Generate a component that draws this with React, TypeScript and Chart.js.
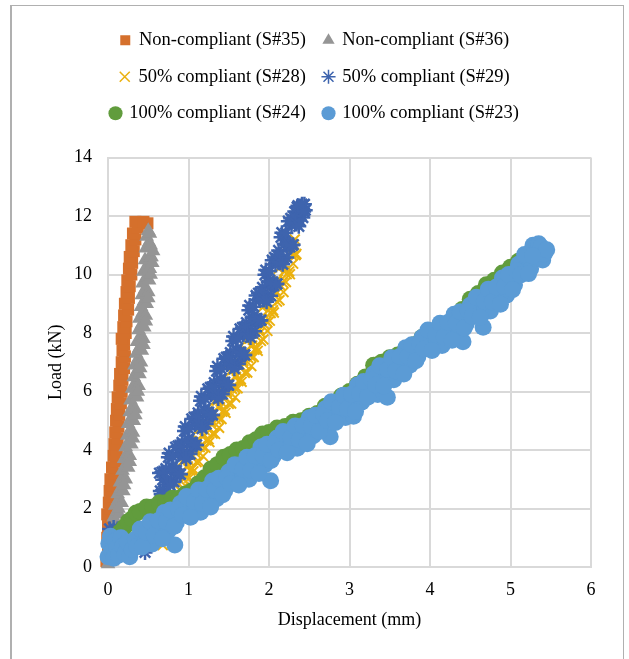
import React, { useEffect, useRef } from 'react';
import { Chart, registerables } from 'chart.js';

Chart.register(...registerables);

const seriesLabels = [
  'Non-compliant (S#35)',
  'Non-compliant (S#36)',
  '50% compliant (S#28)',
  '50% compliant (S#29)',
  '100% compliant (S#24)',
  '100% compliant (S#23)',
];

const xTicks = [0, 1, 2, 3, 4, 5, 6];
const yTicks = [0, 2, 4, 6, 8, 10, 12, 14];

// [displacement (mm), load (kN)]
const s35: [number, number][] = [
  [-0.02, 0.2], [0.02, 0.4], [0.00, 0.6], [0.03, 0.8], [-0.01, 1.0], [0.02, 1.2], [0.00, 1.4],
  [0.04, 1.6], [-0.01, 1.8], [0.03, 2.0], [0.01, 2.2], [0.05, 2.4], [0.02, 2.6], [0.06, 2.8],
  [0.03, 3.0], [0.08, 3.2], [0.05, 3.4], [0.10, 3.6], [0.07, 3.8], [0.11, 4.0], [0.08, 4.2],
  [0.12, 4.4], [0.09, 4.6], [0.13, 4.8], [0.10, 5.0], [0.14, 5.2], [0.11, 5.4], [0.16, 5.6],
  [0.12, 5.8], [0.17, 6.0], [0.14, 6.2], [0.18, 6.4], [0.15, 6.6], [0.20, 6.8], [0.17, 7.0],
  [0.21, 7.2], [0.18, 7.4], [0.20, 7.6], [0.17, 7.8], [0.22, 8.0], [0.19, 8.2], [0.23, 8.4],
  [0.20, 8.6], [0.25, 8.8], [0.21, 9.0], [0.26, 9.2], [0.23, 9.4], [0.27, 9.6], [0.24, 9.8],
  [0.29, 10.0], [0.26, 10.2], [0.30, 10.4], [0.27, 10.6], [0.32, 10.8], [0.29, 11.0], [0.34, 11.2],
  [0.31, 11.4], [0.37, 11.6], [0.34, 11.8], [0.44, 11.8], [0.49, 11.75],
];

const s36a: [number, number][] = [
  [0.00, 0.1], [0.03, 0.3], [0.01, 0.5], [0.05, 0.7], [0.03, 0.9], [0.07, 1.1], [0.05, 1.3],
  [0.09, 1.5], [0.07, 1.7], [0.11, 1.9], [0.09, 2.1], [0.13, 2.3], [0.12, 2.5], [0.16, 2.7],
  [0.15, 2.9], [0.19, 3.1], [0.18, 3.3], [0.22, 3.5], [0.20, 3.7], [0.24, 3.9], [0.22, 4.1],
  [0.26, 4.3], [0.24, 4.5], [0.28, 4.7], [0.25, 4.9], [0.29, 5.1], [0.27, 5.3], [0.31, 5.5],
  [0.28, 5.7], [0.33, 5.9], [0.30, 6.1], [0.34, 6.3], [0.32, 6.5], [0.36, 6.7], [0.33, 6.9],
  [0.37, 7.1], [0.35, 7.3], [0.39, 7.5], [0.36, 7.7], [0.41, 7.9], [0.38, 8.1], [0.42, 8.3],
  [0.39, 8.5], [0.43, 8.7], [0.41, 8.9], [0.45, 9.1], [0.42, 9.3], [0.46, 9.5], [0.43, 9.7],
  [0.48, 9.9], [0.44, 10.1], [0.49, 10.3], [0.46, 10.5], [0.53, 10.6], [0.47, 10.9], [0.51, 11.1],
  [0.48, 11.3], [0.50, 11.5],
];
const s36b: [number, number][] = [
  [0.05, 0.2], [0.08, 0.6], [0.10, 1.0], [0.12, 1.4], [0.14, 1.8], [0.17, 2.2], [0.19, 2.6],
  [0.22, 3.0], [0.25, 3.4], [0.27, 3.8], [0.29, 4.2], [0.31, 4.6], [0.32, 5.0], [0.34, 5.4],
  [0.36, 5.8], [0.38, 6.2], [0.39, 6.6], [0.41, 7.0], [0.42, 7.4], [0.44, 7.8], [0.45, 8.2],
  [0.47, 8.6], [0.48, 9.0], [0.50, 9.4], [0.51, 9.8], [0.52, 10.2], [0.54, 10.6], [0.53, 11.0],
  [0.52, 11.4],
];
const s36c: [number, number][] = [
  [0.04, 0.4], [0.09, 1.2], [0.13, 2.0], [0.20, 2.8], [0.27, 3.6], [0.31, 4.4], [0.34, 5.2],
  [0.37, 6.0], [0.40, 6.8], [0.44, 7.6], [0.47, 8.4], [0.50, 9.2], [0.53, 10.0], [0.55, 10.4],
  [0.56, 10.8],
];

const s28a: [number, number][] = [
  [0.05, 1.0], [0.68, 0.75],
  [0.90, 2.6], [0.92, 3.6], [0.94, 3.01], [0.96, 3.67], [0.98, 2.73], [1.00, 3.64], [1.02, 3.3],
  [1.04, 4.31], [1.06, 3.27], [1.08, 3.98], [1.10, 3.59], [1.12, 4.7], [1.14, 4.1], [1.16, 4.74],
  [1.18, 3.79], [1.20, 4.68], [1.22, 4.33], [1.24, 5.32], [1.26, 4.27], [1.28, 4.96], [1.30, 4.56],
  [1.32, 5.66], [1.34, 5.05], [1.36, 5.7], [1.38, 4.76], [1.40, 5.66], [1.42, 5.31], [1.44, 6.32],
  [1.46, 5.27], [1.48, 5.98], [1.50, 5.58], [1.52, 6.69], [1.54, 6.09], [1.56, 6.75], [1.58, 5.8],
  [1.60, 6.71], [1.62, 6.36], [1.64, 7.37], [1.66, 6.33], [1.68, 7.03], [1.70, 6.64], [1.72, 7.75],
  [1.74, 7.15], [1.76, 7.81], [1.78, 6.87], [1.80, 7.77], [1.82, 7.43], [1.84, 8.44], [1.86, 7.39],
  [1.88, 8.1], [1.90, 7.73], [1.92, 8.87], [1.94, 8.3], [1.96, 8.98], [1.98, 8.07], [2.00, 9.0],
  [2.02, 8.68], [2.04, 9.72], [2.06, 8.7], [2.08, 9.43], [2.10, 9.07], [2.12, 10.2], [2.14, 9.63],
  [2.16, 10.32], [2.18, 9.4], [2.20, 10.33], [2.22, 10.01], [2.24, 11.03], [2.26, 10.01], [2.28, 10.74],
  [2.30, 10.37], [2.32, 11.2], [2.34, 10.7],
];
const s28b: [number, number][] = [
  [0.91, 3.25], [0.93, 2.7], [0.95, 3.67], [0.97, 3.08], [0.99, 3.44], [1.01, 3.05], [1.03, 4.21],
  [1.05, 3.37], [1.07, 4.03], [1.09, 3.89], [1.11, 4.35], [1.13, 3.6], [1.15, 4.74], [1.17, 4.14],
  [1.19, 4.48], [1.21, 4.08], [1.23, 5.23], [1.25, 4.37], [1.27, 5.02], [1.29, 4.86], [1.31, 5.31],
  [1.33, 4.55], [1.35, 5.7], [1.37, 5.1], [1.39, 5.46], [1.41, 5.06], [1.43, 6.22], [1.45, 5.37],
  [1.47, 6.02], [1.49, 5.88], [1.51, 6.33], [1.53, 5.59], [1.55, 6.74], [1.57, 6.14], [1.59, 6.5],
  [1.61, 6.11], [1.63, 7.27], [1.65, 6.42], [1.67, 7.08], [1.69, 6.94], [1.71, 7.39], [1.73, 6.65],
  [1.75, 7.81], [1.77, 7.21], [1.79, 7.57], [1.81, 7.18], [1.83, 8.33], [1.85, 7.49], [1.87, 8.15],
  [1.89, 8.02], [1.91, 8.5], [1.93, 7.78], [1.95, 8.97], [1.97, 8.4], [1.99, 8.78], [2.01, 8.42],
  [2.03, 9.6], [2.05, 8.78], [2.07, 9.47], [2.09, 9.35], [2.11, 9.83], [2.13, 9.12], [2.15, 10.3],
  [2.17, 9.73], [2.19, 10.11], [2.21, 9.74], [2.23, 10.92], [2.25, 10.1], [2.27, 10.78], [2.29, 10.65],
  [2.31, 11.03], [2.33, 10.66],
];

const s29a: [number, number][] = [
  [0.02, 1.3], [0.07, 1.35], [0.12, 1.3], [0.46, 0.5],
  [0.64, 3.21], [0.66, 2.5], [0.68, 2.98], [0.70, 2.5], [0.72, 3.36], [0.74, 2.9], [0.76, 3.89],
  [0.78, 2.98], [0.80, 3.42], [0.82, 2.91], [0.84, 4.1], [0.86, 3.19], [0.88, 3.88], [0.90, 3.17],
  [0.92, 4.26], [0.94, 3.8], [0.96, 4.8], [0.98, 3.91], [1.00, 4.36], [1.02, 3.86], [1.04, 5.06],
  [1.06, 4.17], [1.08, 4.87], [1.10, 4.17], [1.12, 5.27], [1.14, 4.83], [1.16, 5.83], [1.18, 4.93],
  [1.20, 5.38], [1.22, 4.89], [1.24, 6.09], [1.26, 5.19], [1.28, 5.89], [1.30, 5.2], [1.32, 6.3],
  [1.34, 5.85], [1.36, 6.86], [1.38, 5.96], [1.40, 6.41], [1.42, 5.91], [1.44, 7.12], [1.46, 6.22],
  [1.48, 6.92], [1.50, 6.22], [1.52, 7.33], [1.54, 6.88], [1.56, 7.88], [1.58, 6.98], [1.60, 7.44],
  [1.62, 6.94], [1.64, 8.14], [1.66, 7.24], [1.68, 7.94], [1.70, 7.25], [1.72, 8.35], [1.74, 7.92],
  [1.76, 8.94], [1.78, 8.06], [1.80, 8.53], [1.82, 8.06], [1.84, 9.28], [1.86, 8.4], [1.88, 9.12],
  [1.90, 8.44], [1.92, 9.56], [1.94, 9.13], [1.96, 10.15], [1.98, 9.28], [2.00, 9.75], [2.02, 9.27],
  [2.04, 10.49], [2.06, 9.62], [2.08, 10.35], [2.10, 9.68], [2.12, 10.82], [2.14, 10.4], [2.16, 11.43],
  [2.18, 10.57], [2.20, 11.05], [2.22, 10.58], [2.24, 11.82], [2.26, 10.95], [2.28, 11.68], [2.30, 11.02],
  [2.32, 12.15], [2.34, 11.73], [2.36, 12.35], [2.38, 11.85], [2.40, 12.3], [2.42, 11.95], [2.44, 12.4],
  [2.45, 12.2],
];
const s29b: [number, number][] = [
  [0.65, 2.6], [0.67, 3.24], [0.69, 2.6], [0.71, 3.22], [0.73, 2.96], [0.75, 3.75], [0.77, 2.79],
  [0.79, 3.43], [0.81, 3.77], [0.83, 3.31], [0.85, 3.3], [0.87, 4.14], [0.89, 3.18], [0.91, 4.11],
  [0.93, 3.85], [0.95, 4.65], [0.97, 3.7], [0.99, 4.36], [1.01, 4.71], [1.03, 4.26], [1.05, 4.26],
  [1.07, 5.12], [1.09, 4.17], [1.11, 5.12], [1.13, 4.87], [1.15, 5.68], [1.17, 4.73], [1.19, 5.38],
  [1.21, 5.74], [1.23, 5.29], [1.25, 5.29], [1.27, 6.14], [1.29, 5.2], [1.31, 6.15], [1.33, 5.9],
  [1.35, 6.7], [1.37, 5.76], [1.39, 6.41], [1.41, 6.76], [1.43, 6.31], [1.45, 6.32], [1.47, 7.17],
  [1.49, 6.22], [1.51, 7.17], [1.53, 6.93], [1.55, 7.73], [1.57, 6.78], [1.59, 7.43], [1.61, 7.79],
  [1.63, 7.34], [1.65, 7.34], [1.67, 8.19], [1.69, 7.25], [1.71, 8.2], [1.73, 7.96], [1.75, 8.78],
  [1.77, 7.85], [1.79, 8.52], [1.81, 8.9], [1.83, 8.47], [1.85, 8.49], [1.87, 9.36], [1.89, 8.43],
  [1.91, 9.4], [1.93, 9.17], [1.95, 9.99], [1.97, 9.07], [1.99, 9.74], [2.01, 10.11], [2.03, 9.68],
  [2.05, 9.7], [2.07, 10.58], [2.09, 9.67], [2.11, 10.65], [2.13, 10.43], [2.15, 11.27], [2.17, 10.35],
  [2.19, 11.03], [2.21, 11.42], [2.23, 11.0], [2.25, 11.03], [2.27, 11.92], [2.29, 11.0], [2.31, 11.98],
  [2.33, 11.77], [2.35, 12.3], [2.37, 11.65], [2.39, 12.3], [2.41, 12.4], [2.43, 12.15],
];

const s24: [number, number][] = [
  [0.10, 0.9], [0.15, 1.2], [0.20, 1.35], [0.25, 1.55], [0.30, 1.65], [0.35, 1.85], [0.40, 1.9],
  [0.48, 2.05], [0.56, 2.05], [0.64, 2.2], [0.72, 2.2], [0.80, 2.35], [0.88, 2.35], [0.96, 2.5],
  [1.04, 2.6], [1.12, 2.85], [1.20, 3.05], [1.28, 3.35], [1.36, 3.5], [1.44, 3.75], [1.52, 3.85],
  [1.60, 4.0], [1.68, 4.05], [1.76, 4.25], [1.84, 4.35], [1.92, 4.55], [2.00, 4.6], [2.10, 4.75],
  [2.20, 4.8], [2.30, 4.95], [2.40, 5.0], [2.50, 5.15], [2.60, 5.25], [2.70, 5.5], [2.80, 5.6],
  [2.90, 5.85], [3.00, 6.0], [3.10, 6.25], [3.20, 6.5], [3.30, 6.9], [3.40, 7.0], [3.50, 7.15],
  [3.60, 7.25], [3.70, 7.45], [3.80, 7.6], [3.90, 7.85], [4.00, 7.95], [4.10, 8.15], [4.20, 8.3],
  [4.30, 8.6], [4.40, 8.8], [4.50, 9.15], [4.60, 9.35], [4.70, 9.65], [4.80, 9.8], [4.90, 10.05],
  [5.00, 10.25], [5.10, 10.45], [5.20, 10.55], [5.30, 10.65],
];

const s23a: [number, number][] = [
  [0.00, 0.35], [0.01, 0.80], [0.03, 1.05], [0.05, 0.55], [0.07, 0.30], [0.09, 0.90], [0.11, 0.65],
  [0.13, 0.40], [0.16, 1.00], [0.18, 0.70], [0.21, 0.45], [0.24, 0.85], [0.27, 0.35], [0.30, 0.60],
  [0.34, 0.95], [0.36, 0.70],
  [0.40, 1.30], [0.45, 0.80], [0.50, 1.15], [0.55, 0.79], [0.60, 1.48], [0.65, 1.27], [0.70, 1.86],
  [0.75, 1.25], [0.80, 1.79], [0.83, 0.75], [0.85, 1.53], [0.90, 2.17], [0.95, 1.86], [1.00, 2.30],
  [1.05, 1.84], [1.10, 2.23], [1.15, 1.87], [1.20, 2.56], [1.25, 2.35], [1.30, 2.94], [1.35, 2.33],
  [1.40, 2.87], [1.45, 2.61], [1.50, 3.25], [1.55, 2.95], [1.60, 3.40], [1.65, 2.95], [1.70, 3.35],
  [1.75, 3.00], [1.80, 3.70], [1.85, 3.50], [1.90, 4.10], [1.95, 3.50], [2.00, 4.05], [2.02, 2.95],
  [2.05, 3.78], [2.10, 4.41], [2.15, 4.09], [2.20, 4.52], [2.25, 4.05], [2.30, 4.43], [2.35, 4.06],
  [2.40, 4.74], [2.45, 4.52], [2.50, 5.10], [2.55, 4.49], [2.60, 5.03], [2.65, 4.77], [2.70, 5.41],
  [2.75, 5.10], [2.76, 4.45], [2.80, 5.54], [2.85, 5.08], [2.90, 5.47], [2.95, 5.11], [3.00, 5.80],
  [3.05, 5.61], [3.05, 5.15], [3.10, 6.22], [3.15, 5.63], [3.20, 6.19], [3.25, 5.95], [3.30, 6.61],
  [3.35, 6.32], [3.35, 5.90], [3.40, 6.78], [3.45, 6.34], [3.47, 5.80], [3.50, 6.75], [3.55, 6.40],
  [3.60, 7.10], [3.65, 6.90], [3.70, 7.50], [3.75, 6.90], [3.80, 7.45], [3.85, 7.20], [3.90, 7.85],
  [3.95, 7.55], [4.00, 8.00], [4.05, 7.54], [4.10, 7.93], [4.15, 7.57], [4.20, 8.26], [4.25, 8.05],
  [4.30, 8.64], [4.35, 8.03], [4.40, 8.57], [4.41, 7.70], [4.45, 8.31], [4.50, 8.95], [4.55, 8.66],
  [4.60, 9.12], [4.65, 8.68], [4.66, 8.20], [4.70, 9.09], [4.75, 8.75], [4.80, 9.46], [4.85, 9.27],
  [4.90, 9.88], [4.95, 9.29], [5.00, 9.85], [5.05, 9.65], [5.10, 10.35], [5.15, 10.10], [5.20, 10.60],
  [5.25, 10.20], [5.30, 10.65], [5.28, 11.00], [5.33, 10.85], [5.35, 11.05], [5.38, 10.95], [5.40, 10.50],
  [5.42, 10.70], [5.45, 10.85],
];
const s23b: [number, number][] = [
  [0.425, 0.68], [0.475, 1.18], [0.525, 1.55], [0.575, 1.09], [0.625, 1.58], [0.675, 0.97], [0.725, 1.56],
  [0.775, 1.95], [0.825, 1.39], [0.875, 1.98], [0.925, 1.77], [0.975, 2.41], [1.025, 1.70], [1.075, 2.24],
  [1.125, 2.63], [1.175, 2.17], [1.225, 2.66], [1.275, 2.05], [1.325, 2.64], [1.375, 3.03], [1.425, 2.47],
  [1.475, 3.06], [1.525, 2.85], [1.575, 3.50], [1.625, 2.80], [1.675, 3.35], [1.725, 3.75], [1.775, 3.30],
  [1.825, 3.80], [1.875, 3.20], [1.925, 3.80], [1.975, 4.20], [2.025, 3.64], [2.075, 4.22], [2.125, 4.00],
  [2.175, 4.63], [2.225, 3.91], [2.275, 4.44], [2.325, 4.82], [2.375, 4.35], [2.425, 4.83], [2.475, 4.21],
  [2.525, 4.80], [2.575, 5.19], [2.625, 4.63], [2.675, 5.22], [2.725, 5.01], [2.775, 5.65], [2.825, 4.94],
  [2.875, 5.48], [2.925, 5.87], [2.975, 5.41], [3.025, 5.91], [3.075, 5.32], [3.125, 5.93], [3.175, 6.34],
  [3.225, 5.80], [3.275, 6.41], [3.325, 6.22], [3.375, 6.88], [3.425, 6.19], [3.475, 6.75], [3.525, 7.15],
  [3.575, 6.70], [3.625, 7.20], [3.675, 6.60], [3.725, 7.20], [3.775, 7.60], [3.825, 7.05], [3.875, 7.65],
  [3.925, 7.45], [3.975, 8.10], [4.025, 7.40], [4.075, 7.94], [4.125, 8.33], [4.175, 7.87], [4.225, 8.36],
  [4.275, 7.75], [4.325, 8.34], [4.375, 8.73], [4.425, 8.17], [4.475, 8.76], [4.525, 8.56], [4.575, 9.22],
  [4.625, 8.53], [4.675, 9.09], [4.725, 9.50], [4.775, 9.06], [4.825, 9.57], [4.875, 8.98], [4.925, 9.59],
  [4.975, 10.00], [5.025, 9.48], [5.075, 10.13], [5.125, 9.98], [5.175, 10.68], [5.225, 10.03], [5.275, 10.63],
];

const seriesData = [
  s35,
  [...s36a, ...s36b, ...s36c],
  [...s28a, ...s28b],
  [...s29a, ...s29b],
  s24,
  [...s23a, ...s23b],
];
const seriesColors = ['#D5702C', '#959595', '#EBB10F', '#3E64AE', '#619C3D', '#5B9BD5'];
const seriesStyles = ['rect', 'triangle', 'crossRot', 'star', 'circle', 'circle'];
const seriesRadius = [8.5, 8.5, 7, 7.5, 8.5, 8.5];
const seriesStroke = [0, 0, 2, 2.5, 0, 0];

const FONT = 'Liberation Serif';

export default function App() {
  const ref = useRef<HTMLCanvasElement>(null);

  useEffect(() => {
    if (!ref.current) return;
    const datasets = seriesData.map((pts, i) => ({
      label: seriesLabels[i],
      data: pts.map(([x, y]) => ({ x, y })),
      pointStyle: seriesStyles[i],
      pointRadius: seriesRadius[i],
      pointHoverRadius: seriesRadius[i],
      backgroundColor: seriesColors[i],
      borderColor: seriesColors[i],
      pointBackgroundColor: seriesColors[i],
      pointBorderColor: seriesColors[i],
      borderWidth: seriesStroke[i],
      pointBorderWidth: seriesStroke[i],
      showLine: false,
      clip: false,
      order: seriesData.length - 1 - i,
    }));

    const chart = new Chart(ref.current, {
      type: 'scatter',
      data: { datasets } as any,
      options: {
        responsive: false,
        animation: false,
        layout: { padding: { left: 30, right: 29, top: 13, bottom: 22 } },
        plugins: {
          tooltip: { enabled: false },
          legend: {
            position: 'top',
            labels: {
              usePointStyle: true,
              boxWidth: 9,
              boxHeight: 10,
              padding: 18,
              color: '#000',
              font: { family: FONT, size: 18.5 },
              sort: (a: any, b: any) => a.datasetIndex - b.datasetIndex,
              generateLabels: (chart: any) => {
                const items = Chart.defaults.plugins.legend.labels.generateLabels(chart);
                items.forEach((it: any) => {
                  if (it.lineWidth > 1.5) it.lineWidth = 1.5;
                });
                return items;
              },
            },
          },
        },
        scales: {
          x: {
            type: 'linear',
            position: 'bottom',
            min: xTicks[0],
            max: xTicks[xTicks.length - 1],
            afterBuildTicks: (s: any) => {
              s.ticks = xTicks.map((v) => ({ value: v }));
            },
            ticks: { padding: 12, color: '#000', font: { family: FONT, size: 18 } },
            grid: { color: '#d9d9d9', lineWidth: 2, drawTicks: false },
            border: { color: '#d9d9d9', width: 2 },
            title: {
              display: true,
              text: 'Displacement (mm)',
              color: '#000',
              font: { family: FONT, size: 18 },
              padding: { top: 0, bottom: 6 },
            },
            afterFit: (s: any) => {
              s.height = 70;
            },
          },
          y: {
            type: 'linear',
            position: 'left',
            min: yTicks[0],
            max: yTicks[yTicks.length - 1],
            afterBuildTicks: (s: any) => {
              s.ticks = yTicks.map((v) => ({ value: v }));
            },
            ticks: { padding: 16, color: '#000', font: { family: FONT, size: 18 } },
            grid: { color: '#d9d9d9', lineWidth: 2, drawTicks: false },
            border: { color: '#d9d9d9', width: 2 },
            title: {
              display: true,
              text: 'Load (kN)',
              color: '#000',
              font: { family: FONT, size: 18 },
              padding: { top: 15, bottom: 0 },
            },
            afterFit: (s: any) => {
              s.width = 78;
            },
          },
          xTop: {
            type: 'linear',
            position: 'top',
            display: true,
            ticks: { display: false },
            grid: { display: false, drawTicks: false },
            border: { display: false },
            afterFit: (s: any) => {
              s.height = 25;
            },
          },
          yRight: {
            type: 'linear',
            position: 'right',
            display: true,
            ticks: { display: false },
            grid: { display: false, drawTicks: false },
            border: { display: false },
            afterFit: (s: any) => {
              s.width = 9;
            },
          },
        },
      } as any,
    });
    return () => chart.destroy();
  }, []);

  return (
    <div style={{ position: 'fixed', left: 0, top: 0, width: 629, height: 659, background: '#fff', overflow: 'hidden' }}>
      <div
        style={{
          position: 'absolute',
          left: 10,
          top: 5,
          width: 611,
          height: 700,
          borderTop: '1px solid #b0b0b0',
          borderLeft: '2px solid #b0b0b0',
          borderRight: '1px solid #b0b0b0',
        }}
      />
      <canvas
        ref={ref}
        width={629}
        height={659}
        style={{ position: 'absolute', left: 0, top: 0, width: 629, height: 659 }}
      />
    </div>
  );
}
